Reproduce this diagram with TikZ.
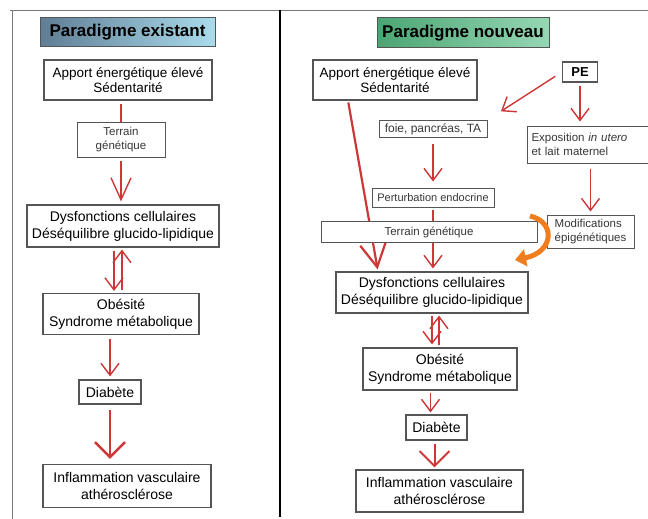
\documentclass[tikz,border=0pt]{standalone}
\usepackage{fontspec}
\setmainfont{Liberation Sans}
\usetikzlibrary{arrows.meta,backgrounds}
\definecolor{arrowred}{RGB}{205,55,55}
\definecolor{boxgray}{RGB}{85,85,85}
\definecolor{textgray}{RGB}{55,55,55}
\definecolor{bendorange}{RGB}{240,125,30}
\definecolor{framegray}{RGB}{120,120,120}
\tikzset{
  bigbox/.style={draw=boxgray, line width=1.1pt, fill=white, align=center, inner sep=2pt,
    font=\fontsize{13.5}{15.5}\selectfont},
  comicbox/.style={bigbox, font=\fontsize{14}{17}\selectfont},
  smallbox/.style={draw=boxgray, line width=1pt, fill=white, align=center, inner sep=2pt,
    text=textgray, font=\fontsize{11}{13}\selectfont},
  headbox/.style={draw=boxgray, line width=1pt, font=\bfseries\fontsize{17}{19}\selectfont},
  redline/.style={draw=arrowred, line width=1.4pt},
  redarrow/.style={redline, -{Straight Barb[length=12pt,width=18pt]}},
  longvee/.style={redline, -{Straight Barb[length=22pt,width=20pt]}},
  thickarrow/.style={draw=arrowred, line width=2.6pt, -{Straight Barb[length=15pt,width=30pt]}},
  bigarrow/.style={draw=arrowred, line width=2.2pt, -{Straight Barb[length=24pt,width=26pt]}},
  orangebend/.style={draw=bendorange, line width=5pt, -{Triangle[length=11pt,width=17pt]}}
}
\begin{document}
\begin{tikzpicture}[x=1pt,y=-1pt]
\useasboundingbox (0,0) rectangle (648,519);
\draw[framegray, line width=0.8pt] (10,10) -- (648,10);
\draw[framegray, line width=0.8pt] (12,10) -- (12,519);
\draw[black, line width=1.5pt] (280,10) -- (280,517);

\node[headbox, left color={rgb,255:red,95;green,125;blue,148}, right color={rgb,255:red,170;green,220;blue,235},
  minimum width=175pt, minimum height=29pt] (headL) at (127.5,32.5) {Paradigme existant};
\node[bigbox, minimum width=168pt, minimum height=40pt] (apportL) at (128,80)
  {Apport énergétique élevé\\Sédentarité};
\node[smallbox, font=\fontsize{11.5}{14}\selectfont, minimum width=88pt, minimum height=35pt] (terrainL) at (121,140)
  {Terrain\\génétique};
\node[comicbox, minimum width=192pt, minimum height=42pt] (dysL) at (123,226)
  {Dysfonctions cellulaires\\Déséquilibre glucido-lipidique};
\node[comicbox, minimum width=156pt, minimum height=41pt] (obesL) at (121,314)
  {Obésité\\Syndrome métabolique};
\node[comicbox, minimum width=62pt, minimum height=24pt] (diabL) at (110,392) {Diabète};
\node[comicbox, minimum width=168pt, minimum height=43pt] (inflL) at (127,486)
  {Inflammation vasculaire\\athérosclérose};

\node[headbox, left color={rgb,255:red,75;green,165;blue,115}, right color={rgb,255:red,150;green,215;blue,180},
  minimum width=172pt, minimum height=30pt] (headR) at (463,33) {Paradigme nouveau};
\node[bigbox, minimum width=164pt, minimum height=40pt] (apportR) at (395,80)
  {Apport énergétique élevé\\Sédentarité};
\node[bigbox, font=\bfseries\fontsize{13}{15}\selectfont, minimum width=35pt, minimum height=20pt] (pe) at (580,72) {PE};
\node[smallbox, font=\fontsize{12}{14}\selectfont, minimum width=108pt, minimum height=17pt] (foie) at (433,129)
  {foie, pancréas, TA};
\node[smallbox, font=\fontsize{11.5}{14}\selectfont, anchor=west, align=left, text width=118pt,
  inner sep=4pt, minimum height=37pt] (expo) at (527,144.5)
  {Exposition \textit{in utero}\\et lait maternel};
\node[smallbox, minimum width=122pt, minimum height=19pt] (perturb) at (433,197.5) {Perturbation endocrine};
\node[smallbox, font=\fontsize{11.5}{13.5}\selectfont, minimum width=216pt, minimum height=21pt] (terrainR) at (429,232) {Terrain génétique};
\node[smallbox, font=\fontsize{11.5}{14}\selectfont, align=left, minimum width=87pt, minimum height=33pt] (modif) at (590.5,231.5)
  {Modifications\\épigénétiques};
\node[comicbox, minimum width=192pt, minimum height=41pt] (dysR) at (432,292.5)
  {Dysfonctions cellulaires\\Déséquilibre glucido-lipidique};
\node[comicbox, minimum width=154pt, minimum height=42pt] (obesR) at (440,369)
  {Obésité\\Syndrome métabolique};
\node[comicbox, minimum width=61pt, minimum height=25pt] (diabR) at (436.5,427.5) {Diabète};
\node[comicbox, minimum width=167pt, minimum height=42pt] (inflR) at (439.5,491)
  {Inflammation vasculaire\\athérosclérose};

\begin{pgfonlayer}{background}
\draw[redline, shorten <=3pt] (terrainL.north |- apportL.south) -- (terrainL.north);
\draw[longvee, shorten <=3pt, shorten >=3pt] (terrainL.south) -- (terrainL.south |- dysL.north);
\draw[redarrow, shorten <=3pt, shorten >=2pt] ([xshift=-7pt]obesL.north |- dysL.south) -- ([xshift=-7pt]obesL.north);
\draw[redarrow, shorten <=3pt, shorten >=2pt] ([xshift=1pt]obesL.north) -- ([xshift=1pt]obesL.north |- dysL.south);
\draw[redarrow, shorten <=4pt, shorten >=3pt] (diabL.north |- obesL.south) -- (diabL.north);
\draw[thickarrow, shorten <=5pt, shorten >=5pt] (diabL.south) -- (diabL.south |- inflL.north);

\draw[bigarrow, shorten <=2pt, shorten >=2pt] ([xshift=-47pt]apportR.south) -- ([xshift=-54pt]dysR.north);
\draw[redarrow, shorten <=8pt, shorten >=16pt] (pe.west) -- (foie.north east);
\draw[redarrow, shorten <=3pt, shorten >=4pt] (pe.south) -- (pe.south |- expo.north);
\draw[redarrow, shorten <=6pt, shorten >=6pt] (foie.south) -- (perturb.north);
\draw[redarrow, shorten <=5pt, shorten >=3pt] (modif.north |- expo.south) -- (modif.north);
\draw[redarrow, shorten <=2pt, shorten >=3pt] (perturb.south) -- (perturb.south |- dysR.north);
\draw[redarrow, shorten <=2pt, shorten >=3pt] ([xshift=-8pt]obesR.north |- dysR.south) -- ([xshift=-8pt]obesR.north);
\draw[redarrow, shorten <=2pt, shorten >=2pt] ([xshift=-1pt]obesR.north) -- ([xshift=-1pt]obesR.north |- dysR.south);
\draw[redarrow, shorten <=2pt, shorten >=2pt] ([xshift=-6pt]diabR.north |- obesR.south) -- ([xshift=-6pt]diabR.north);
\draw[thickarrow, line width=2pt, shorten <=3pt, shorten >=2pt] ([xshift=-2pt]diabR.south) -- ([xshift=-2pt]diabR.south |- inflR.north);
\end{pgfonlayer}

\coordinate (bendstart) at (530,216);
\coordinate (bendend) at (515,260);
\draw[orangebend] (bendstart) .. controls (556,222) and (554,252) .. (bendend);
\end{tikzpicture}
\end{document}
